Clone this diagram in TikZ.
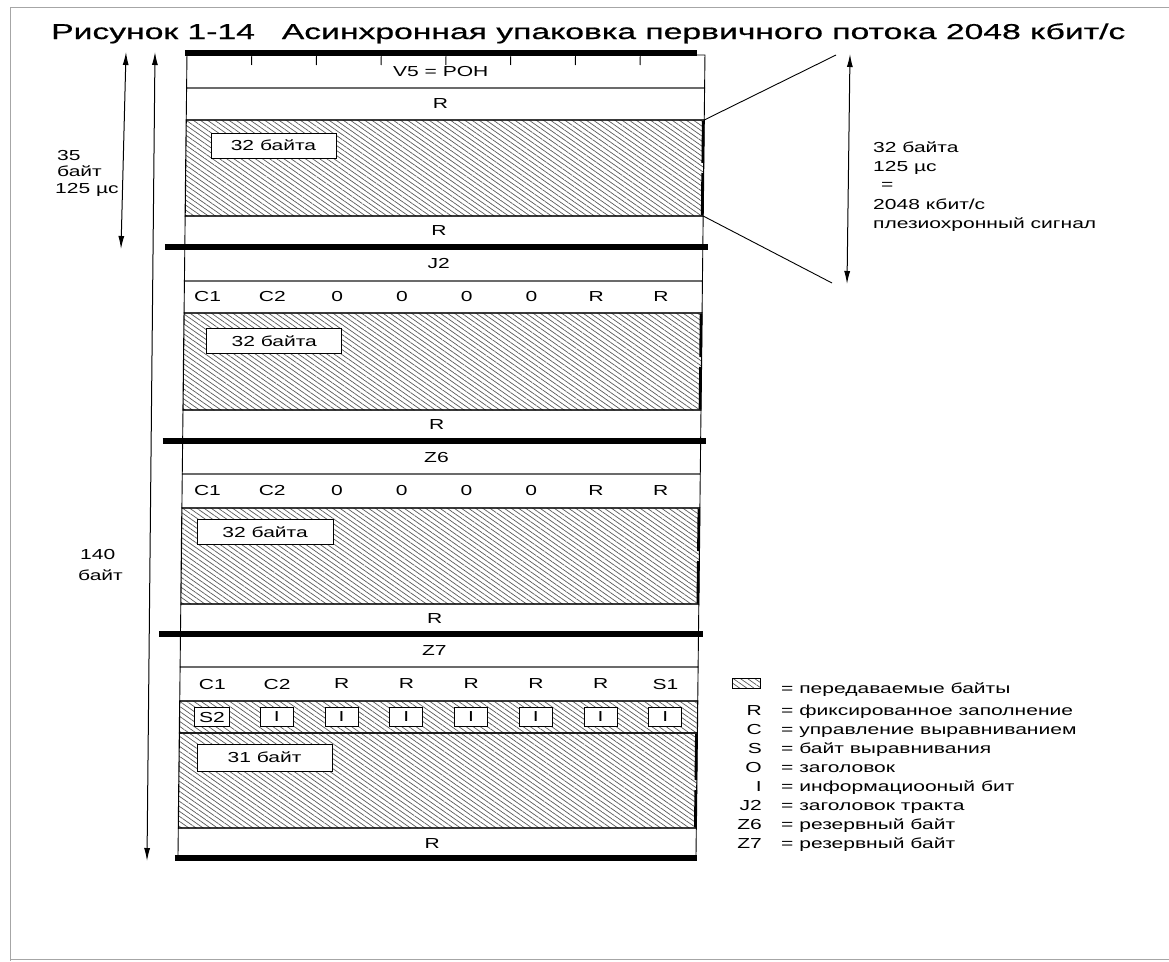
\documentclass[tikz,border=0pt]{standalone}
\usepackage{fontspec}
\setmainfont{Liberation Sans}
\newfontfamily\bodyfont[FakeStretch=1.45]{Liberation Sans}
\newfontfamily\titlefont[FakeBold=0.6]{Liberation Sans}
\usetikzlibrary{patterns.meta,arrows.meta}
\begin{document}
\begin{tikzpicture}[x=1pt,y=-1pt,
  txt/.style={font=\bodyfont\fontsize{14.5}{17}\selectfont, inner sep=0pt},
  cell/.style={draw=black, line width=0.9pt},
  hatch/.style={draw=black, line width=1.1pt, pattern={Lines[angle=-35,distance=4.1pt,line width=0.7pt]}, pattern color=black!65},
  bar/.style={line width=5.5pt},
  edge/.style={line width=2.6pt},
  lbl/.style={draw, fill=white, line width=0.8pt, inner sep=0pt, txt, minimum height=25pt},
  ibox/.style={draw, fill=white, line width=0.8pt, inner sep=0pt, txt, minimum width=33pt, minimum height=19pt},
  dim/.style={line width=1pt, {Latex[length=13pt,width=6pt]}-{Latex[length=13pt,width=6pt]}},
  thin/.style={line width=0.9pt},
  frameline/.style={draw=black!35, line width=0.8pt}
]
\useasboundingbox (0,0) rectangle (1169,961);
% scan frame
\draw[frameline] (1169,7) -- (10.5,7) -- (10.5,961);
\draw[frameline] (10.5,959) -- (1169,959);

% title
\node[anchor=base west, inner sep=0pt] (title) at (51,39)
  {\resizebox{1074pt}{\height}{\titlefont\fontsize{21.5}{23}\selectfont Рисунок 1-14\hspace{0.8em}Асинхронная упаковка первичного потока 2048 кбит/с}};

\begin{scope}[xshift=0.58pt, xslant=0.0112]
  % block 1
  \draw[cell] (187,55) rectangle (705,88);
  \foreach \k in {1,...,7} \draw[cell] ({187+64.75*\k},55) -- ++(0,10);
  \draw[cell] (187,88) rectangle (705,120);
  \draw[hatch] (187,120) rectangle (705,216);
  \draw[cell] (187,216) rectangle (705,247);
  \coordinate (hc1) at (705,120);
  \coordinate (hc2) at (705,216);
  \draw[edge] (704,121) -- (704,163) (704,173) -- (704,215);
  % block 2
  \draw[cell] (187,247) rectangle (705,281);
  \draw[cell] (187,281) rectangle (705,313);
  \draw[hatch] (187,313) rectangle (705,410);
  \draw[cell] (187,410) rectangle (705,441);
  \draw[edge] (704,314) -- (704,357) (704,367) -- (704,409);
  % block 3
  \draw[cell] (187,441) rectangle (705,474);
  \draw[cell] (187,474) rectangle (705,508);
  \draw[hatch] (187,508) rectangle (705,604);
  \draw[cell] (187,604) rectangle (705,634);
  \draw[edge] (704,509) -- (704,551) (704,561) -- (704,603);
  % block 4
  \draw[cell] (187,634) rectangle (705,667);
  \draw[cell] (187,667) rectangle (705,701);
  \draw[hatch] (187,701) rectangle (705,733);
  \draw[hatch] (187,733) rectangle (705,828);
  \draw[cell] (187,828) rectangle (705,858);
  \draw[edge] (704,734) -- (704,780) (704,790) -- (704,827);
  % thick bars
  \draw[bar] (185,53) -- (697,53);
  \draw[bar] (167,247) -- (710,247);
  \draw[bar] (167,441) -- (710,441);
  \draw[bar] (166,634) -- (710,634);
  \draw[bar] (184,858) -- (706,858);

  % row texts
  \node[txt] (v5) at (441,72) {V5 = POH};
  \node[txt] (r1) at (441,104) {R};
  \node[lbl, minimum width=125pt] (b1) at (274.5,145.5) {32 байта};
  \node[txt] (r2) at (441,231) {R};
  \node[txt] (j2) at (441,264) {J2};
  \foreach \t [count=\i] in {C1,C2,0,0,0,0,R,R}
    \node[txt] (ca\i) at ({187+64.75*(\i-0.5)-9},297) {\t};
  \node[lbl, minimum width=135pt] (b2) at (277.5,341) {32 байта};
  \node[txt] (r3) at (441,425) {R};
  \node[txt] (z6) at (441,458) {Z6};
  \foreach \t [count=\i] in {C1,C2,0,0,0,0,R,R}
    \node[txt] (cb\i) at ({187+64.75*(\i-0.5)-7},491) {\t};
  \node[lbl, minimum width=136pt] (b3) at (270.5,532) {32 байта};
  \node[txt] (r4) at (441,619) {R};
  \node[txt] (z7) at (441,651) {Z7};
  \foreach \t [count=\i] in {C1,C2,R,R,R,R,R,S1}
    \node[txt] (cc\i) at ({187+64.75*(\i-0.5)},684) {\t};
  \node[ibox, minimum width=35pt] (s2) at (219.4,717) {S2};
  \foreach \i in {2,...,8}
    \node[ibox] (ib\i) at ({187+64.75*(\i-0.5)},717) {I};
  \node[lbl, minimum width=135pt, minimum height=27pt] (b4) at (272.5,757.5) {31 байт};
  \node[txt] (r5) at (441,843) {R};
\end{scope}

% dimension arrows
\coordinate (sa1) at (126,52);
\coordinate (sa2) at (121,249);
\draw[dim] (sa1) -- (sa2);
\coordinate (la1) at (155,52);
\coordinate (la2) at (147,861);
\draw[dim] (la1) -- (la2);
\coordinate (ra1) at (850,54);
\coordinate (ra2) at (847,284);
\draw[dim] (ra1) -- (ra2);
\coordinate (d1) at (836,55);
\coordinate (d2) at (832,283);
\draw[thin] (hc1) -- (d1);
\draw[thin] (hc2) -- (d2);

% left labels
\node[txt, anchor=base west] (l35) at (57,160) {35};
\node[txt, anchor=base west] (l35b) at (57,176) {байт};
\node[txt, anchor=base west] (l35c) at (55,193) {125 µс};
\node[txt, anchor=base west] (l140) at (80,559) {140};
\node[txt, anchor=base west] (l140b) at (78,580) {байт};

% right labels
\node[txt, anchor=base west] (rt1) at (873,152) {32 байта};
\node[txt, anchor=base west] (rt2) at (873,171) {125 µс};
\node[txt, anchor=base west] (rt3) at (881,189) {=};
\node[txt, anchor=base west] (rt4) at (873,209) {2048 кбит/с};
\node[txt, anchor=base west] (rt5) at (873,228) {плезиохронный сигнал};

% legend
\draw[hatch, line width=0.8pt] (732,678) rectangle (760,688);
\foreach \k/\s/\d in {0//передаваемые байты,1/R/фиксированное заполнение,2/C/управление выравниванием,3/S/байт выравнивания,4/O/заголовок,5/I/информациооный бит,6/J2/заголовок тракта,7/Z6/резервный байт,8/Z7/резервный байт}{
  \pgfmathsetmacro\yy{\k==0 ? 693 : 696+19.1*\k}
  \node[txt, anchor=base east] (lk\k) at (762,\yy) {\s};
  \node[txt, anchor=base west] (lv\k) at (781,\yy) {= \d};
}
\end{tikzpicture}
\end{document}
